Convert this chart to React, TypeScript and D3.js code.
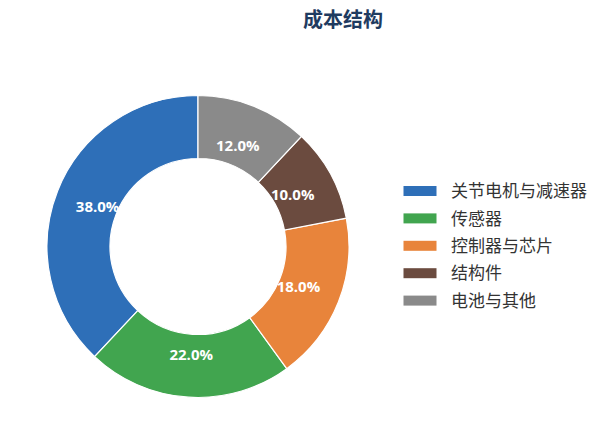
import React from "react";
import * as d3 from "d3";

const categories = ["关节电机与减速器", "传感器", "控制器与芯片", "结构件", "电池与其他"];
const values = [38, 22, 18, 10, 12];
const colors = ["#2e6fb8", "#41a54f", "#e8843b", "#6b4b3f", "#8a8a8a"];
const title = "成本结构";

export default function App() {
  const W = 605, H = 445;
  const cx = 198, cy = 246.5, R = 151, r0 = 88, rl = 108;
  const pie = d3.pie<number>().sort(null).value((d) => d).startAngle(0).endAngle(-2 * Math.PI);
  const arcs = pie(values);
  const arc = d3.arc<d3.PieArcDatum<number>>().innerRadius(r0).outerRadius(R);
  const labelArc = d3.arc<d3.PieArcDatum<number>>().innerRadius(rl).outerRadius(rl);
  const total = d3.sum(values);
  const legendY = d3.scaleLinear().domain([0, 1]).range([191, 218.4]);
  return (
    <svg width={W} height={H} style={{ position: "absolute", left: 0, top: 0, background: "#fff" }}>
      <text x={343} y={27} textAnchor="middle" fontFamily="'Noto Sans CJK SC', sans-serif" fontWeight="bold" fontSize={20} fill="#1f3b60">
        {title}
      </text>
      <g transform={`translate(${cx},${cy})`}>
        {arcs.map((a, i) => (
          <path key={i} d={arc(a) || ""} fill={colors[i]} stroke="#fff" strokeWidth={1.2} />
        ))}
        {arcs.map((a, i) => {
          const [x, y] = labelArc.centroid(a);
          return (
            <text key={"l" + i} x={x} y={y} dy="0.36em" textAnchor="middle" fill="#fff" fontFamily="'Open Sans', 'Noto Sans', sans-serif" fontWeight="bold" fontSize={15}>
              {((values[i] / total) * 100).toFixed(1) + "%"}
            </text>
          );
        })}
      </g>
      {categories.map((c, i) => (
        <g key={"g" + i}>
          <rect x={403.5} y={legendY(i) - 5} width={33} height={10} fill={colors[i]} />
          <text x={451} y={legendY(i)} dy="0.36em" fontFamily="'Noto Sans CJK SC', sans-serif" fontSize={17} fill="#333">
            {c}
          </text>
        </g>
      ))}
    </svg>
  );
}
